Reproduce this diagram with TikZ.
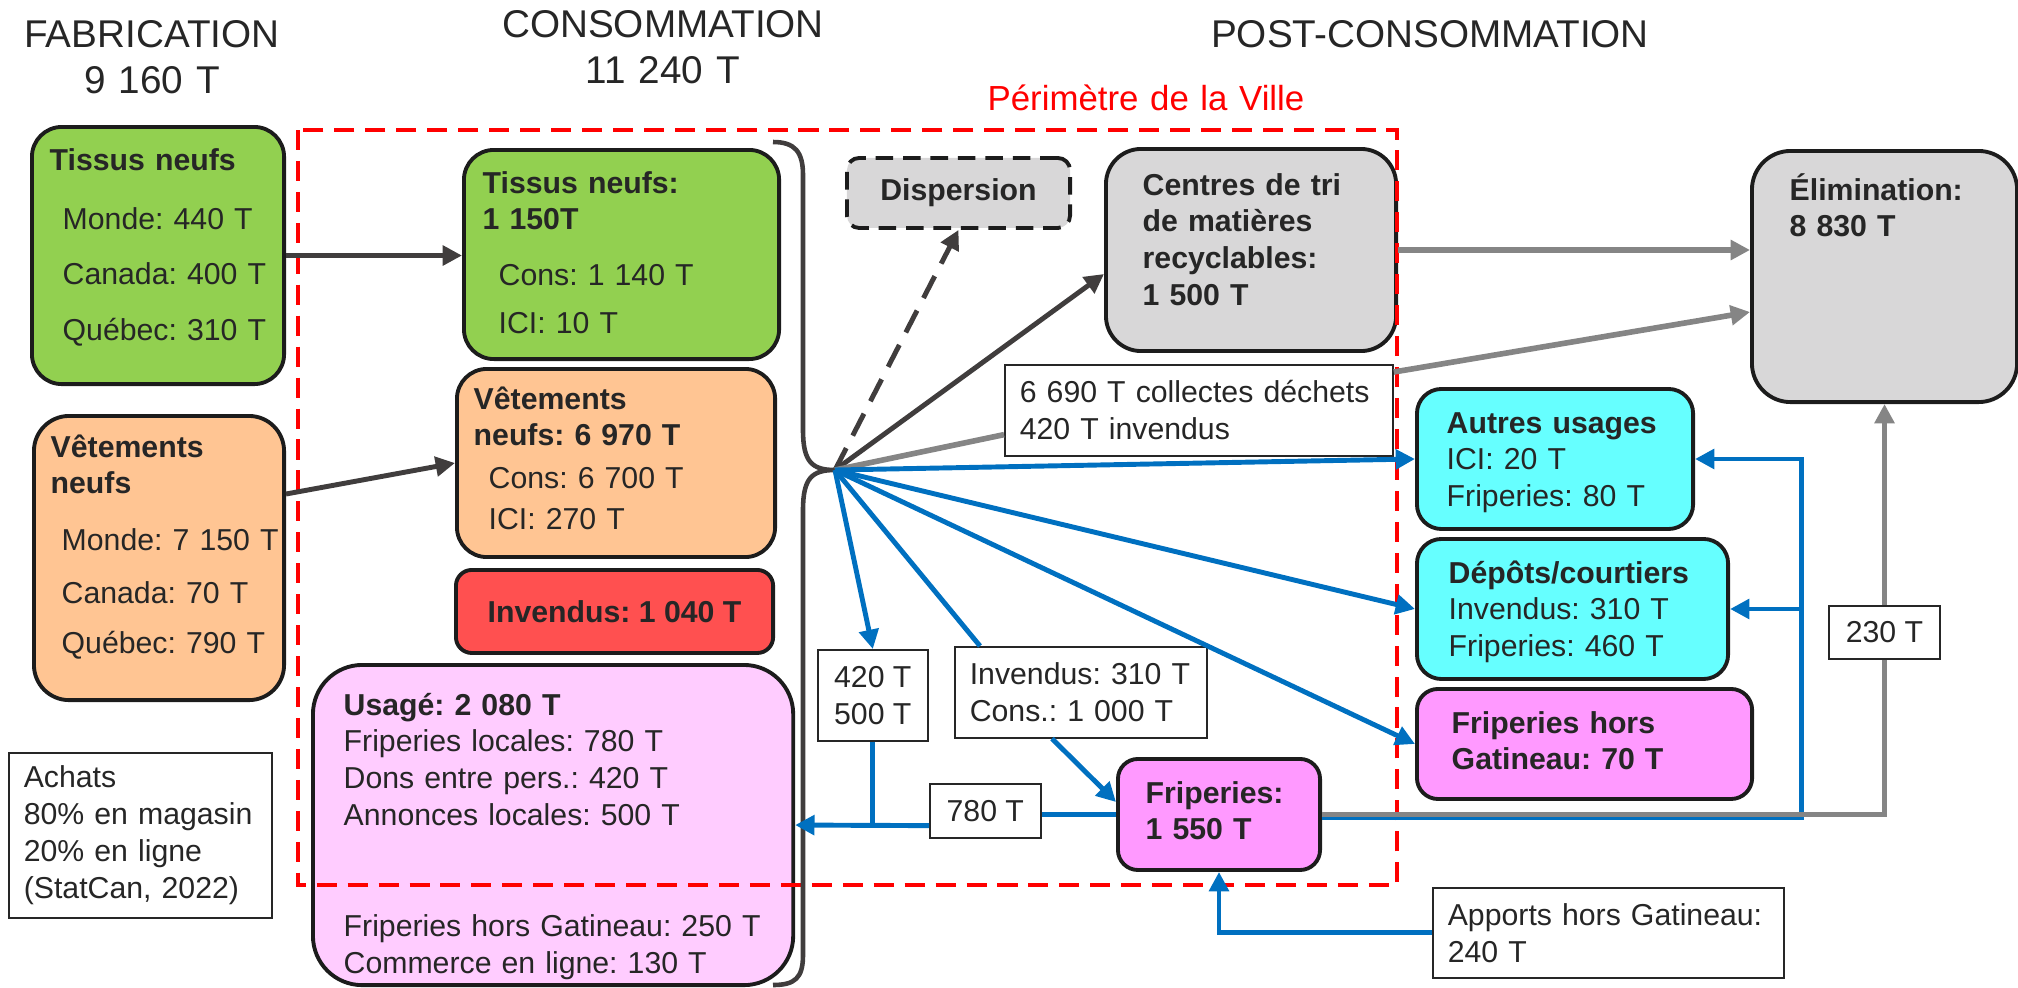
\documentclass[tikz,border=0pt]{standalone}
\usepackage{fontspec}
\setmainfont{Liberation Sans}
\usetikzlibrary{calc,arrows.meta}
\frenchspacing

\definecolor{txtgray}{HTML}{262626}
\definecolor{linegray}{HTML}{1C1C1C}
\definecolor{darkarr}{HTML}{403D3D}
\definecolor{grayarr}{HTML}{858585}
\definecolor{bluearr}{HTML}{0070C0}
\definecolor{fillgreen}{HTML}{92D050}
\definecolor{fillpeach}{HTML}{FFC593}
\definecolor{fillred}{HTML}{FF5050}
\definecolor{fillpink}{HTML}{FFCCFF}
\definecolor{fillmag}{HTML}{FF99FF}
\definecolor{fillcyan}{HTML}{66FFFF}
\definecolor{fillgray}{HTML}{D8D7D8}

\tikzset{
	rbox/.style={draw=linegray, line width=1.1pt, rounded corners=#1,
		anchor=north west, inner sep=0pt, text=txtgray,
		font=\fontsize{8.6}{10.5}\selectfont\bfseries},
	rbox/.default=8.5pt,
	lbox/.style={draw=txtgray, line width=0.45pt, fill=white, anchor=north west,
		inner xsep=0.15cm, inner ysep=0pt, align=left, text=txtgray,
		font=\fontsize{8.6}{10.5}\selectfont},
	txt/.style={anchor=base west, inner sep=0pt, align=left, text width=5.5cm,
		text=txtgray, font=\fontsize{8.6}{10.5}\selectfont},
	btxt/.style={txt, font=\fontsize{8.6}{10.5}\selectfont\bfseries},
	title/.style={anchor=base, inner sep=0pt, align=center, text width=6cm,
		text=txtgray, font=\fontsize{11}{13.2}\selectfont},
	ville/.style={draw=red, line width=1.15pt, dash pattern=on 5.7pt off 3.1pt},
	arrtip/.style={-{Triangle[length=5.5pt,width=5.5pt]}},
	darr/.style={draw=darkarr, line width=1.4pt},
	garr/.style={draw=grayarr, line width=1.6pt},
	barr/.style={draw=bluearr, line width=1.4pt},
	brace/.style={draw=darkarr, line width=1.3pt},
}

\begin{document}
\begin{tikzpicture}[x=0.01cm, y=-0.01cm]

% frame %{{{1

	\useasboundingbox (0,0) rectangle (2018,987);

% titles %{{{1

	\node[title] (fabT) at (152,47) {FABRICATION\\9 160 T};
	\node[title] (consT) at (663,37) {CONSOMMATION\\11 240 T};
	\node[title] (postT) at (1430,47) {POST-CONSOMMATION};
	\node[title, text=red, font=\fontsize{9.9}{12}\selectfont] (perim) at (1146,110)
		{Périmètre de la Ville};

% boxes %{{{1

	% fabrication
	\node[rbox, fill=fillgreen, minimum width=2.52cm, minimum height=2.57cm] (tisF) at (30,125) {};
	\node[rbox=10pt, fill=fillpeach, minimum width=2.50cm, minimum height=2.84cm] (vetF) at (32,414) {};
	\node[lbox, minimum width=2.63cm, minimum height=1.65cm, text width=2.33cm] (achats) at (8,752)
		{Achats\\80\% en magasin\\20\% en ligne\\(StatCan, 2022)};

	% consommation
	\node[rbox, fill=fillgreen, minimum width=3.15cm, minimum height=2.09cm] (tisC) at (462,148) {};
	\node[rbox, fill=fillpeach, minimum width=3.18cm, minimum height=1.88cm] (vetC) at (455,367) {};
	\node[rbox=4.5pt, fill=fillred, minimum width=3.17cm, minimum height=0.83cm] (inv) at (454,568)
		{Invendus: 1 040 T};
	\node[rbox=14pt, fill=fillpink, minimum width=4.80cm, minimum height=3.20cm] (usage) at (311,663) {};

	% post-consommation
	\node[rbox=3.5pt, fill=fillgray, dash pattern=on 5pt off 2.8pt,
		minimum width=2.23cm, minimum height=0.70cm] (disp) at (845,156) {Dispersion};
	\node[rbox=10pt, fill=fillgray, minimum width=2.90cm, minimum height=2.02cm] (centres) at (1104,147) {};
	\node[rbox=11pt, fill=fillgray, minimum width=2.65cm, minimum height=2.51cm] (elim) at (1750,149) {};
	\node[rbox=7pt, fill=fillcyan, minimum width=2.76cm, minimum height=1.40cm] (autres) at (1415,387) {};
	\node[rbox=7pt, fill=fillcyan, minimum width=3.11cm, minimum height=1.40cm] (depots) at (1415,537) {};
	\node[rbox=6pt, fill=fillmag, minimum width=3.35cm, minimum height=1.10cm] (fripH) at (1415,687) {};
	\node[rbox=5.7pt, fill=fillmag, minimum width=2.02cm, minimum height=1.11cm] (frip) at (1116,757) {};

	% flow labels
	\node[lbox, minimum width=3.88cm, minimum height=0.91cm, text width=3.58cm] (collect) at (1004,364)
		{6 690 T collectes déchets\\420 T invendus};
	\node[lbox, align=center, minimum width=1.10cm, minimum height=0.91cm] (lab420) at (817,649)
		{420 T\\500 T};
	\node[lbox, minimum width=2.52cm, minimum height=0.91cm, text width=2.22cm] (labInv) at (954,646)
		{Invendus: 310 T\\Cons.: 1 000 T};
	\node[lbox, align=center, minimum width=1.11cm, minimum height=0.54cm] (lab780) at (929,783) {780 T};
	\node[lbox, minimum width=3.51cm, minimum height=0.90cm, text width=3.21cm] (apports) at (1432,887)
		{Apports hors Gatineau:\\240 T};

% box texts %{{{1

	\node[btxt] (tisFh) at (49,170) {Tissus neufs};
	\node[txt] (tisFb) at (62,229) {Monde: 440 T\\[5.3pt]Canada: 400 T\\[5.4pt]Québec: 310 T};

	\node[btxt] (vetFh) at (50,457) {Vêtements\\neufs};
	\node[txt] (vetFb) at (61,550) {Monde: 7 150 T\\[4.6pt]Canada: 70 T\\[3.7pt]Québec: 790 T};

	\node[btxt] (tisCh) at (482,193) {Tissus neufs:\\1 150T};
	\node[txt] (tisCb) at (498,285) {Cons: 1 140 T\\[3.2pt]ICI: 10 T};

	\node[btxt] (vetCh) at (473,409) {Vêtements\\neufs: 6 970 T};
	\node[txt] (vetCb) at (488,488) {Cons: 6 700 T\\[1.2pt]ICI: 270 T};

	\node[txt] (usageb) at (343,715) {\textbf{Usagé: 2 080 T}\\Friperies locales: 780 T\\
		Dons entre pers.: 420 T\\Annonces locales: 500 T\\[21pt]
		Friperies hors Gatineau: 250 T\\Commerce en ligne: 130 T};

	\node[btxt] (centresh) at (1142,195) {Centres de tri\\de matières\\recyclables:\\1 500 T};
	\node[btxt] (elimh) at (1789,200) {Élimination:\\8 830 T};
	\node[txt] (autresb) at (1446,433) {\textbf{Autres usages}\\ICI: 20 T\\Friperies: 80 T};
	\node[txt] (depotsb) at (1448,583) {\textbf{Dépôts/courtiers}\\Invendus: 310 T\\Friperies: 460 T};
	\node[btxt] (fripHh) at (1451,733) {Friperies hors\\Gatineau: 70 T};
	\node[btxt] (friph) at (1145,803) {Friperies:\\1 550 T};

% perimeter %{{{1

	\draw[ville] (298,130) rectangle (1397,885);

% brace and hub %{{{1

	\coordinate (hub) at (835,470);
	\coordinate (bus) at ($(autres.east)+(106,0)$);

	\draw[brace] (773,142) .. controls (795,142) and (803,152) .. (803,175)
		-- (803,430) .. controls (803,462) and (812,470) .. (hub)
		.. controls (812,470) and (803,478) .. (803,510)
		-- (803,955) .. controls (803,978) and (795,985) .. (773,985);

% connectors %{{{1

	% fabrication to consommation
	\draw[darr, arrtip] (tisF.east) -- (tisF.east -| tisC.west);
	\draw[darr, arrtip] ($(vetF.north east)+(0,80)$) -- (vetC.west);

	% hub outputs
	\draw[darr, arrtip, dash pattern=on 7pt off 4pt] (hub) -- (disp.south);
	\draw[darr, arrtip] (hub) -- ($(centres.south west)+(0,-79)$);
	\draw[garr] (hub) -- ($(collect.south west)+(0,-22)$);
	\draw[barr, arrtip] (hub) -- (autres.west);
	\draw[barr, arrtip] (hub) -- (depots.west);
	\draw[barr, arrtip] (hub) -- (fripH.west);
	\draw[barr, arrtip] (hub) -- (lab420.north);
	\draw[barr] (hub) -- ($(labInv.north west)+(26,0)$);

	% to elimination
	\draw[garr, arrtip] (centres.east) -- (centres.east -| elim.west);
	\draw[garr, arrtip] ($(collect.north east)+(0,8)$) -- ($(elim.north west)+(0,163)$);

	% friperies
	\draw[barr, arrtip] ($(labInv.south west)+(98,0)$) -- ($(frip.north west)+(0,45)$);
	\draw[barr] (frip.west) -- (frip.west -| lab780.east);
	\draw[barr, arrtip] ($(lab780.south west)+(0,-13)$) -- (usage.east);
	\draw[barr] (lab420.south) -- (lab420.south |- usage.east);
	\draw[barr, arrtip] ($(frip.east)+(0,3)$) -| (bus) -- (autres.east);
	\draw[barr, arrtip] (bus |- depots.east) -- (depots.east);
	\draw[garr, arrtip] (frip.east) -| node[lbox, anchor=center, align=center, pos=0.722,
		minimum width=1.11cm, minimum height=0.53cm] (lab230) {230 T} (elim.south);
	\draw[barr, arrtip] (apports.west) -| (frip.south);

% closing %{{{1

\end{tikzpicture}
\end{document}
